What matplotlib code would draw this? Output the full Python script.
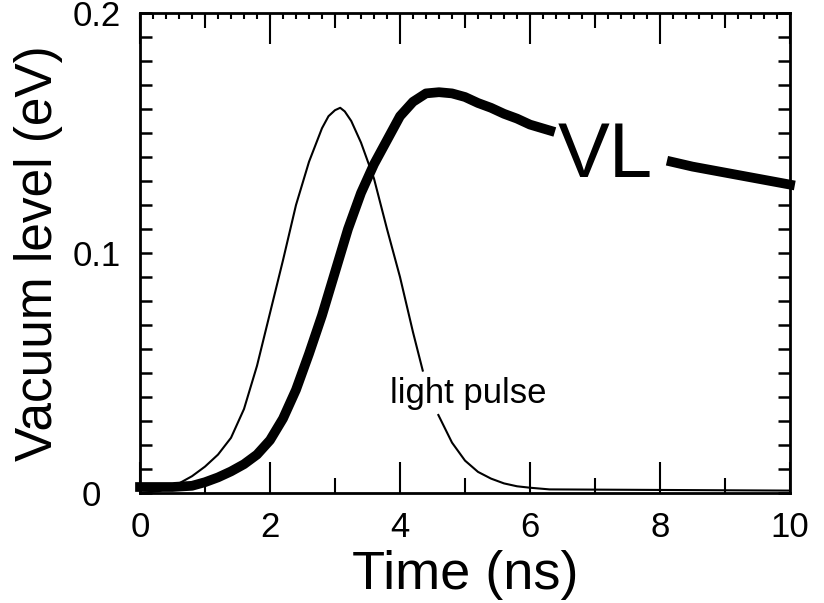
# plot.py
# vacuum level transient and light pulse vs time

import numpy as np
import matplotlib
matplotlib.use('Agg')
import matplotlib.pyplot as plt
import matplotlib.transforms as mtransforms
from matplotlib.ticker import MultipleLocator

plt.rcParams['font.family'] = ['Liberation Sans', 'DejaVu Sans']

# light pulse (thin line), gap where the label sits
pulse_t = [0, 0.3, 0.6, 0.8, 1.0, 1.2, 1.4, 1.6, 1.8, 2.0, 2.2, 2.4, 2.6, 2.8, 2.9,
           3.0, 3.08, 3.15, 3.25, 3.4, 3.6, 3.8, 4.0, 4.2, 4.35, np.nan,
           4.59, 4.8, 5.0, 5.2, 5.4, 5.6, 5.8, 6.0, 6.3, 10]
pulse_v = [0, 0.0008, 0.004, 0.007, 0.011, 0.016, 0.023, 0.035, 0.053, 0.075, 0.097,
           0.120, 0.138, 0.152, 0.157, 0.1595, 0.1605, 0.159, 0.155, 0.146, 0.131,
           0.110, 0.090, 0.067, 0.051, np.nan,
           0.0325, 0.021, 0.0135, 0.0088, 0.006, 0.004, 0.0028, 0.0022, 0.0015, 0.001]

# vacuum level (thick line), gap where "VL" sits
vl_t = [0, 0.5, 0.8, 1.0, 1.2, 1.4, 1.6, 1.8, 2.0, 2.2, 2.4, 2.6, 2.8, 3.0, 3.2, 3.4,
        3.6, 3.8, 4.0, 4.2, 4.4, 4.6, 4.8, 5.0, 5.2, 5.4, 5.6, 5.8, 6.0, 6.31, np.nan,
        8.18, 8.5, 9.0, 9.5, 10]
vl_v = [0.0025, 0.0025, 0.003, 0.0045, 0.0065, 0.009, 0.012, 0.016, 0.022, 0.031,
        0.043, 0.058, 0.074, 0.092, 0.110, 0.125, 0.137, 0.147, 0.157, 0.163, 0.1665,
        0.167, 0.1665, 0.165, 0.1625, 0.1605, 0.158, 0.156, 0.1535, 0.151, np.nan,
        0.138, 0.136, 0.1335, 0.131, 0.1285]

x_ticks = [0, 2, 4, 6, 8, 10]
y_ticks = [0, 0.1, 0.2]
y_ticklabels = ['0', '0.1', '0.2']

fig = plt.figure(figsize=(8.24, 6.03), dpi=100)
ax = fig.add_axes([140/824, 110/603, 650/824, 480/603])

ax.plot(pulse_t, pulse_v, color='black', lw=1.5, solid_joinstyle='round', zorder=2)
ax.plot(vl_t, vl_v, color='black', lw=7, solid_capstyle='projecting',
        solid_joinstyle='round', clip_on=False, zorder=3)

ax.text(6.43, 0.1317, 'VL', fontsize=56, ha='left', va='baseline')
ax.text(3.85, 0.0375, 'light pulse', fontsize=25, ha='left', va='baseline')

ax.set_xlim(0, 10)
ax.set_ylim(0, 0.2)

ax.set_xticks(x_ticks)
ax.xaxis.set_minor_locator(MultipleLocator(1))
ax.set_yticks(y_ticks)
ax.set_yticklabels(y_ticklabels)
ax.yaxis.set_minor_locator(MultipleLocator(0.01))

ax.tick_params(axis='x', which='both', direction='in', top=True, width=1.5,
               labelsize=25, pad=13)
ax.tick_params(axis='x', which='major', length=22)
ax.tick_params(axis='x', which='minor', length=10.5)
ax.tick_params(axis='y', which='both', direction='in', right=True, width=1.8,
               length=8.6, labelsize=25, pad=14)

# small ticks every 0.2 along the top
top = ax.secondary_xaxis('top')
top.xaxis.set_major_locator(MultipleLocator(0.2))
top.tick_params(direction='in', length=4.5, width=1.5, labeltop=False)
top.spines['top'].set_visible(False)

for s in ax.spines.values():
    s.set_linewidth(2)

ax.set_xlabel('Time (ns)', fontsize=39)
ax.set_ylabel('Vacuum level (eV)', fontsize=37)
ax.xaxis.set_label_coords(0.5, -0.118)
ax.yaxis.set_label_coords(-0.118, 0.5)

# the "0" on the y axis sits further left in the original
lab0 = ax.yaxis.get_major_ticks()[0].label1
lab0.set_transform(lab0.get_transform() +
                   mtransforms.ScaledTranslation(-0.2, 0, fig.dpi_scale_trans))

fig.savefig('out.png', dpi=100)
